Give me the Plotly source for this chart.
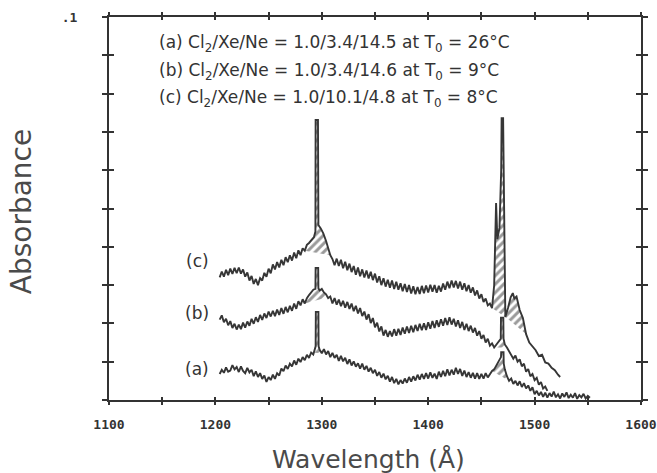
import plotly.graph_objects as go

# ---- spectra: wavelength (Å) and absorbance -------------------------------
wl_a = [1204, 1206, 1208, 1210, 1212, 1214, 1216, 1218, 1220, 1222,
        1224, 1226, 1228, 1230, 1232, 1234, 1236, 1238, 1240, 1242,
        1244, 1246, 1248, 1250, 1252, 1254, 1256, 1258, 1260, 1262,
        1264, 1266, 1268, 1270, 1272, 1274, 1276, 1278, 1280, 1282,
        1284, 1286, 1288, 1290, 1292,
        1293.6, 1294.2, 1294.4, 1296.8, 1297.0,
        1298, 1300, 1302, 1304, 1306, 1308, 1310, 1312, 1314, 1316,
        1318, 1320, 1322, 1324, 1326, 1328, 1330, 1332, 1334, 1336,
        1338, 1340, 1342, 1344, 1346, 1348, 1350, 1352, 1354, 1356,
        1358, 1360, 1362, 1364, 1366, 1368, 1370, 1372, 1374, 1376,
        1378, 1380, 1382, 1384, 1386, 1388, 1390, 1392, 1394, 1396,
        1398, 1400, 1402, 1404, 1406, 1408, 1410, 1412, 1414, 1416,
        1418, 1420, 1422, 1424, 1426, 1428, 1430, 1432, 1434, 1436,
        1438, 1440, 1442, 1444, 1446, 1448, 1450, 1452, 1454, 1456,
        1458, 1460, 1462, 1464, 1466, 1468,
        1468.4, 1468.6, 1470.8, 1471.0,
        1472, 1474, 1476, 1478, 1480, 1482, 1484, 1486, 1488, 1490,
        1492, 1494, 1496, 1498, 1500, 1502, 1504, 1506, 1508, 1510,
        1512, 1514, 1516, 1518, 1520, 1522, 1524, 1526, 1528, 1530,
        1532, 1534, 1536, 1538, 1540, 1542, 1544, 1546, 1548, 1550,
        1552]
abs_a = [0.0068, 0.0079, 0.0071, 0.0085, 0.0074, 0.0077, 0.0091, 0.0080, 0.0086, 0.0073,
         0.0088, 0.0076, 0.0070, 0.0084, 0.0072, 0.0079, 0.0062, 0.0075, 0.0060, 0.0070,
         0.0055, 0.0064, 0.0047, 0.0060, 0.0052, 0.0066, 0.0055, 0.0070, 0.0064, 0.0082,
         0.0075, 0.0090, 0.0081, 0.0095, 0.0088, 0.0103, 0.0092, 0.0108, 0.0099, 0.0112,
         0.0104, 0.0118, 0.0110, 0.0124, 0.0119,
         0.0135, 0.0140, 0.0230, 0.0230, 0.0140,
         0.0131, 0.0122, 0.0133, 0.0119, 0.0128, 0.0112, 0.0123, 0.0110, 0.0118, 0.0102,
         0.0115, 0.0101, 0.0110, 0.0094, 0.0106, 0.0090, 0.0101, 0.0087, 0.0096, 0.0082,
         0.0095, 0.0079, 0.0089, 0.0074, 0.0084, 0.0070, 0.0079, 0.0063, 0.0073, 0.0058,
         0.0069, 0.0054, 0.0063, 0.0048, 0.0060, 0.0044, 0.0055, 0.0041, 0.0052, 0.0043,
         0.0056, 0.0045, 0.0060, 0.0048, 0.0062, 0.0051, 0.0066, 0.0053, 0.0068, 0.0055,
         0.0070, 0.0056, 0.0072, 0.0058, 0.0069, 0.0055, 0.0074, 0.0060, 0.0076, 0.0062,
         0.0080, 0.0064, 0.0079, 0.0066, 0.0084, 0.0068, 0.0081, 0.0063, 0.0077, 0.0060,
         0.0073, 0.0058, 0.0071, 0.0056, 0.0070, 0.0055, 0.0068, 0.0056, 0.0070, 0.0059,
         0.0068, 0.0076, 0.0080, 0.0090, 0.0100, 0.0110,
         0.0112, 0.0125, 0.0125, 0.0095,
         0.0080, 0.0062, 0.0050, 0.0056, 0.0042, 0.0050, 0.0038, 0.0049, 0.0034, 0.0044,
         0.0030, 0.0038, 0.0024, 0.0033, 0.0015, 0.0024, 0.0012, 0.0021, 0.0008, 0.0019,
         0.0006, 0.0018, 0.0009, 0.0022, 0.0007, 0.0015, 0.0004, 0.0017, 0.0008, 0.0020,
         0.0005, 0.0014, 0.0006, 0.0018, 0.0003, 0.0013, 0.0007, 0.0016, 0.0004, 0.0011,
         0.0006]

wl_b = [1204, 1206, 1208, 1210, 1212, 1214, 1216, 1218, 1220, 1222,
        1224, 1226, 1228, 1230, 1232, 1234, 1236, 1238, 1240, 1242,
        1244, 1246, 1248, 1250, 1252, 1254, 1256, 1258, 1260, 1262,
        1264, 1266, 1268, 1270, 1272, 1274, 1276, 1278, 1280, 1282,
        1284, 1286, 1288, 1290, 1292,
        1294.0, 1294.2, 1296.6, 1296.8,
        1298, 1300, 1302, 1304, 1306, 1308, 1310, 1312, 1314, 1316,
        1318, 1320, 1322, 1324, 1326, 1328, 1330, 1332, 1334, 1336,
        1338, 1340, 1342, 1344, 1346, 1348, 1350, 1352, 1354, 1356,
        1358, 1360, 1362, 1364, 1366, 1368, 1370, 1372, 1374, 1376,
        1378, 1380, 1382, 1384, 1386, 1388, 1390, 1392, 1394, 1396,
        1398, 1400, 1402, 1404, 1406, 1408, 1410, 1412, 1414, 1416,
        1418, 1420, 1422, 1424, 1426, 1428, 1430, 1432, 1434, 1436,
        1438, 1440, 1442, 1444, 1446, 1448, 1450, 1452, 1454, 1456,
        1458, 1460, 1462, 1464, 1466,
        1468.2, 1468.4, 1470.6, 1470.8,
        1472, 1474, 1476, 1478, 1480, 1482, 1484, 1486, 1488, 1490,
        1492, 1494, 1496, 1498, 1500, 1502, 1504, 1506, 1508, 1510,
        1512]
abs_b = [0.0210, 0.0221, 0.0203, 0.0212, 0.0195, 0.0206, 0.0188, 0.0199, 0.0184, 0.0197,
         0.0185, 0.0202, 0.0189, 0.0205, 0.0194, 0.0212, 0.0199, 0.0216, 0.0204, 0.0222,
         0.0209, 0.0226, 0.0214, 0.0231, 0.0218, 0.0233, 0.0219, 0.0236, 0.0222, 0.0240,
         0.0225, 0.0243, 0.0229, 0.0246, 0.0233, 0.0252, 0.0238, 0.0258, 0.0247, 0.0263,
         0.0252, 0.0266, 0.0274, 0.0281, 0.0288,
         0.0290, 0.0345, 0.0345, 0.0292,
         0.0286, 0.0290, 0.0281, 0.0276, 0.0266, 0.0270, 0.0252, 0.0266, 0.0249, 0.0262,
         0.0245, 0.0259, 0.0241, 0.0256, 0.0238, 0.0252, 0.0232, 0.0246, 0.0226, 0.0240,
         0.0219, 0.0231, 0.0210, 0.0224, 0.0201, 0.0214, 0.0190, 0.0202, 0.0179, 0.0192,
         0.0168, 0.0183, 0.0165, 0.0180, 0.0166, 0.0185, 0.0168, 0.0186, 0.0170, 0.0189,
         0.0173, 0.0192, 0.0175, 0.0194, 0.0177, 0.0196, 0.0180, 0.0199, 0.0182, 0.0200,
         0.0183, 0.0203, 0.0186, 0.0206, 0.0188, 0.0208, 0.0191, 0.0211, 0.0194, 0.0214,
         0.0196, 0.0216, 0.0197, 0.0212, 0.0192, 0.0208, 0.0188, 0.0204, 0.0183, 0.0199,
         0.0180, 0.0194, 0.0176, 0.0188, 0.0168, 0.0180, 0.0160, 0.0170, 0.0150, 0.0160,
         0.0142, 0.0148, 0.0137, 0.0145, 0.0150,
         0.0160, 0.0215, 0.0215, 0.0160,
         0.0145, 0.0137, 0.0128, 0.0120, 0.0108, 0.0116, 0.0100, 0.0106, 0.0088, 0.0095,
         0.0074, 0.0081, 0.0062, 0.0068, 0.0052, 0.0058, 0.0040, 0.0047, 0.0030, 0.0035,
         0.0024]

wl_c = [1204, 1206, 1208, 1210, 1212, 1214, 1216, 1218, 1220, 1222,
        1224, 1226, 1228, 1230, 1232, 1234, 1236, 1238, 1240, 1242,
        1244, 1246, 1248, 1250, 1252, 1254, 1256, 1258, 1260, 1262,
        1264, 1266, 1268, 1270, 1272, 1274, 1276, 1278, 1280, 1282,
        1284,
        1286, 1288, 1290.5, 1292.6, 1294.0, 1294.2, 1296.4, 1296.8, 1299, 1301.4,
        1304, 1306, 1308,
        1310, 1312, 1314, 1316, 1318, 1320, 1322, 1324, 1326, 1328,
        1330, 1332, 1334, 1336, 1338, 1340, 1342, 1344, 1346, 1348,
        1350, 1352, 1354, 1356, 1358, 1360, 1362, 1364, 1366, 1368,
        1370, 1372, 1374, 1376, 1378, 1380, 1382, 1384, 1386, 1388,
        1390, 1392, 1394, 1396, 1398, 1400, 1402, 1404, 1406, 1408,
        1410, 1412, 1414, 1416, 1418, 1420, 1422, 1424, 1426, 1428,
        1430, 1432, 1434, 1436, 1438, 1440, 1442, 1444, 1446, 1448,
        1450, 1452, 1454, 1456, 1458, 1460,
        1462, 1463.4, 1463.8, 1465, 1467, 1468.6, 1469.0, 1470.4, 1471.5, 1472.5,
        1475, 1477.5, 1479.5, 1481, 1483, 1486, 1489, 1492, 1495, 1498,
        1501, 1504, 1507, 1510, 1513, 1516, 1519, 1522, 1524]
abs_c = [0.0320, 0.0335, 0.0322, 0.0340, 0.0326, 0.0343, 0.0329, 0.0345, 0.0331, 0.0346,
         0.0330, 0.0341, 0.0322, 0.0333, 0.0312, 0.0324, 0.0303, 0.0316, 0.0300, 0.0318,
         0.0312, 0.0332, 0.0322, 0.0343, 0.0331, 0.0354, 0.0341, 0.0360, 0.0346, 0.0366,
         0.0352, 0.0373, 0.0360, 0.0378, 0.0364, 0.0385, 0.0370, 0.0391, 0.0378, 0.0396,
         0.0390,
         0.0405, 0.0410, 0.0418, 0.0425, 0.0440, 0.0731, 0.0731, 0.0457, 0.0448, 0.0435,
         0.0415, 0.0396, 0.0378,
         0.0368, 0.0352, 0.0369, 0.0350, 0.0366, 0.0344, 0.0361, 0.0339, 0.0356, 0.0334,
         0.0350, 0.0327, 0.0346, 0.0323, 0.0341, 0.0320, 0.0338, 0.0317, 0.0335, 0.0313,
         0.0330, 0.0307, 0.0323, 0.0300, 0.0318, 0.0296, 0.0314, 0.0293, 0.0312, 0.0290,
         0.0309, 0.0288, 0.0305, 0.0284, 0.0303, 0.0282, 0.0300, 0.0278, 0.0297, 0.0276,
         0.0295, 0.0277, 0.0298, 0.0279, 0.0299, 0.0281, 0.0301, 0.0283, 0.0300, 0.0280,
         0.0298, 0.0283, 0.0304, 0.0288, 0.0309, 0.0292, 0.0312, 0.0294, 0.0311, 0.0291,
         0.0309, 0.0288, 0.0305, 0.0284, 0.0300, 0.0280, 0.0294, 0.0273, 0.0286, 0.0265,
         0.0276, 0.0256, 0.0265, 0.0247, 0.0252, 0.0240,
         0.0300, 0.0514, 0.0514, 0.0420, 0.0450, 0.0600, 0.0736, 0.0736, 0.0400, 0.0217,
         0.0240, 0.0268, 0.0279, 0.0265, 0.0270, 0.0235, 0.0214, 0.0172, 0.0150, 0.0140,
         0.0130, 0.0115, 0.0118, 0.0098, 0.0095, 0.0084, 0.0078, 0.0066, 0.0060]

# hatched absorption features: wavelength intervals (Å) per spectrum
hatched_bands = {
    "a": [(1290, 1300), (1460, 1476)],
    "b": [(1284, 1308), (1462, 1474)],
    "c": [(1284, 1308), (1460, 1472.5), (1472.5, 1492)],
}

curve_labels = {"a": "(a)", "b": "(b)", "c": "(c)"}
label_positions = {"a": (1196, 0.0081), "b": (1196, 0.0227), "c": (1196, 0.0362)}

legend_lines = [
    "(a) Cl<sub>2</sub>/Xe/Ne = 1.0/3.4/14.5 at T<sub>0</sub> = 26°C",
    "(b) Cl<sub>2</sub>/Xe/Ne = 1.0/3.4/14.6 at T<sub>0</sub> = 9°C",
    "(c) Cl<sub>2</sub>/Xe/Ne = 1.0/10.1/4.8 at T<sub>0</sub> = 8°C",
]

x_tick_vals = [1100, 1150, 1200, 1250, 1300, 1350, 1400, 1450, 1500, 1550, 1600]
x_tick_text = ["1100", "", "1200", "", "1300", "", "1400", "", "1500", "", "1600"]
y_tick_vals = [0.0, 0.01, 0.02, 0.03, 0.04, 0.05, 0.06, 0.07, 0.08, 0.09, 0.1]
y_tick_text = ["", "", "", "", "", "", "", "", "", "", ".1"]

X_RANGE = [1100, 1600]
Y_RANGE = [0, 0.1]

INK = "#363636"
FRAME = "#333333"
TEXT = "#333333"

spectra = {"a": (wl_a, abs_a), "b": (wl_b, abs_b), "c": (wl_c, abs_c)}

fig = go.Figure()

# hatched areas of the line features (closed by the chord across each band)
for key, (wl, ab) in spectra.items():
    for lo, hi in hatched_bands[key]:
        xs = [w for w in wl if lo <= w <= hi]
        ys = [a for w, a in zip(wl, ab) if lo <= w <= hi]
        fig.add_trace(go.Scatter(
            x=xs, y=ys, mode="lines", fill="toself", line=dict(width=0),
            fillcolor="rgba(0,0,0,0)",
            fillpattern=dict(shape="/", size=6, solidity=0.5, fgcolor=INK, bgcolor="white"),
            hoverinfo="skip", showlegend=False))

# the spectra themselves
for key, (wl, ab) in spectra.items():
    fig.add_trace(go.Scatter(x=wl, y=ab, mode="lines",
                             line=dict(color=INK, width=1.9),
                             name=curve_labels[key], showlegend=False))

# second subplot on the same domain: carries the inward half of the crossing ticks
fig.add_trace(go.Scatter(x=[X_RANGE[0]], y=[Y_RANGE[0]], xaxis="x2", yaxis="y2",
                         mode="markers", marker=dict(opacity=0),
                         hoverinfo="skip", showlegend=False))

annotations = []
for key, (lx, ly) in label_positions.items():
    annotations.append(dict(x=lx, y=ly, xref="x", yref="y", text=curve_labels[key],
                            showarrow=False, xanchor="right", yanchor="middle",
                            font=dict(family="DejaVu Sans", size=17, color=TEXT)))
for line, ypos in zip(legend_lines, [0.932, 0.857, 0.787]):
    annotations.append(dict(x=0.0902, y=ypos, xref="paper", yref="paper", text=line,
                            showarrow=False, xanchor="left", yanchor="middle",
                            font=dict(family="DejaVu Sans", size=17, color=TEXT)))
annotations.append(dict(x=0.487, y=-0.155, xref="paper", yref="paper", text="Wavelength (Å)",
                        showarrow=False, xanchor="center", yanchor="middle",
                        font=dict(family="DejaVu Sans", size=25, color="#4a4a4a")))
annotations.append(dict(x=-0.163, y=0.491, xref="paper", yref="paper", text="Absorbance",
                        showarrow=False, textangle=-90, xanchor="center", yanchor="middle",
                        font=dict(family="DejaVu Sans", size=28, color="#4a4a4a")))

common_axis = dict(showgrid=False, zeroline=False, tickcolor=FRAME, tickwidth=1.5,
                   automargin=False, tickmode="array")

fig.update_layout(
    width=657, height=473,
    margin=dict(l=109, r=16, t=17, b=73),
    paper_bgcolor="white", plot_bgcolor="rgba(0,0,0,0)",
    xaxis=dict(range=X_RANGE, tickvals=x_tick_vals, ticktext=x_tick_text, domain=[0, 1],
               ticks="outside", ticklen=3, showline=True, linewidth=2, linecolor=FRAME,
               mirror="ticks", ticklabelstandoff=8, anchor="y",
               tickfont=dict(family="DejaVu Sans Mono", size=13, color=FRAME, weight="bold"),
               **common_axis),
    yaxis=dict(range=Y_RANGE, tickvals=y_tick_vals, ticktext=y_tick_text, domain=[0, 1],
               ticks="outside", ticklen=5, showline=True, linewidth=2, linecolor=FRAME,
               mirror="ticks", ticklabelstandoff=22, anchor="x",
               tickfont=dict(family="DejaVu Sans Mono", size=13, color=FRAME, weight="bold"),
               **common_axis),
    xaxis2=dict(range=X_RANGE, tickvals=x_tick_vals, domain=[0, 1], anchor="y2",
                ticks="inside", ticklen=3, mirror="ticks", showline=False,
                showticklabels=False, **common_axis),
    yaxis2=dict(range=Y_RANGE, tickvals=y_tick_vals, domain=[0, 1], anchor="x2",
                ticks="inside", ticklen=5, mirror="ticks", showline=False,
                showticklabels=False, **common_axis),
    annotations=annotations,
)

fig.write_html("out.html")
